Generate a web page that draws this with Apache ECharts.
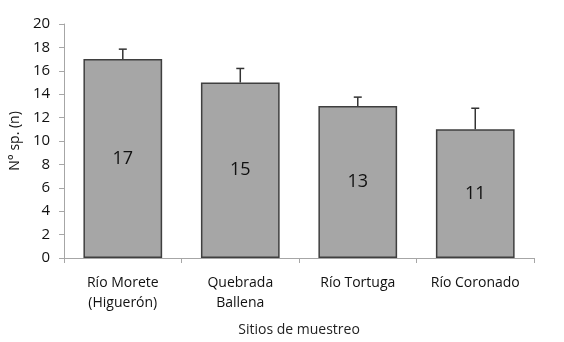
<!DOCTYPE html>
<html>
<head>
<meta charset="utf-8">
<script src="https://cdn.jsdelivr.net/npm/echarts@6/dist/echarts.min.js"></script>
<style>
  html, body { margin: 0; padding: 0; background: #fff; }
  #chart { width: 564px; height: 342px; }
</style>
</head>
<body>
<div id="chart"></div>
<script>
const sites = ['Río Morete\n(Higuerón)', 'Quebrada\nBallena', 'Río Tortuga', 'Río Coronado']
const species = [17, 15, 13, 11]
const errorUp = [0.85, 1.2, 0.75, 1.8]

const font = '"Open Sans", sans-serif'

const chart = echarts.init(document.getElementById('chart'))

const errorData = species.map((v, i) => [i, v, v + errorUp[i]])

const option = {
  animation: false,
  grid: {
    left: 63,
    right: 30,
    top: 24,
    bottom: 84
  },
  xAxis: {
    type: 'category',
    data: sites,
    name: 'Sitios de muestreo',
    nameLocation: 'middle',
    nameGap: 65,
    nameTextStyle: { color: '#222', fontSize: 14, fontFamily: font },
    axisLine: { lineStyle: { color: '#a6a6a6', width: 1 } },
    axisTick: { show: true, length: 5, lineStyle: { color: '#a6a6a6' } },
    axisLabel: {
      color: '#111',
      fontSize: 14,
      fontFamily: font,
      margin: 15,
      lineHeight: 20
    }
  },
  yAxis: {
    type: 'value',
    min: 0,
    max: 20,
    interval: 2,
    name: 'N° sp. (n)',
    nameLocation: 'middle',
    nameGap: 41,
    nameTextStyle: { color: '#111', fontSize: 14, fontFamily: font },
    axisLine: { show: true, lineStyle: { color: '#a6a6a6', width: 1 } },
    axisTick: { show: true, length: 5, lineStyle: { color: '#a6a6a6' } },
    axisLabel: { color: '#111', fontSize: 15, fontFamily: font, margin: 14 },
    splitLine: { show: false }
  },
  series: [
    {
      type: 'bar',
      data: species,
      barWidth: '67%',
      itemStyle: {
        color: '#a6a6a6',
        borderColor: '#3f3f3f',
        borderWidth: 1.5
      },
      label: {
        show: true,
        position: 'inside',
        color: '#111',
        fontSize: 18,
        fontFamily: font
      }
    },
    {
      type: 'custom',
      data: errorData,
      z: 10,
      renderItem: function (params, api) {
        const base = api.coord([api.value(0), api.value(1)])
        const top = api.coord([api.value(0), api.value(2)])
        const half = 4
        const style = { stroke: '#333', lineWidth: 1.5 }
        return {
          type: 'group',
          children: [
            { type: 'line', shape: { x1: base[0], y1: base[1], x2: top[0], y2: top[1] }, style: style },
            { type: 'line', shape: { x1: top[0] - half, y1: top[1], x2: top[0] + half, y2: top[1] }, style: style }
          ]
        }
      }
    }
  ]
}

chart.setOption(option)
</script>
</body>
</html>
